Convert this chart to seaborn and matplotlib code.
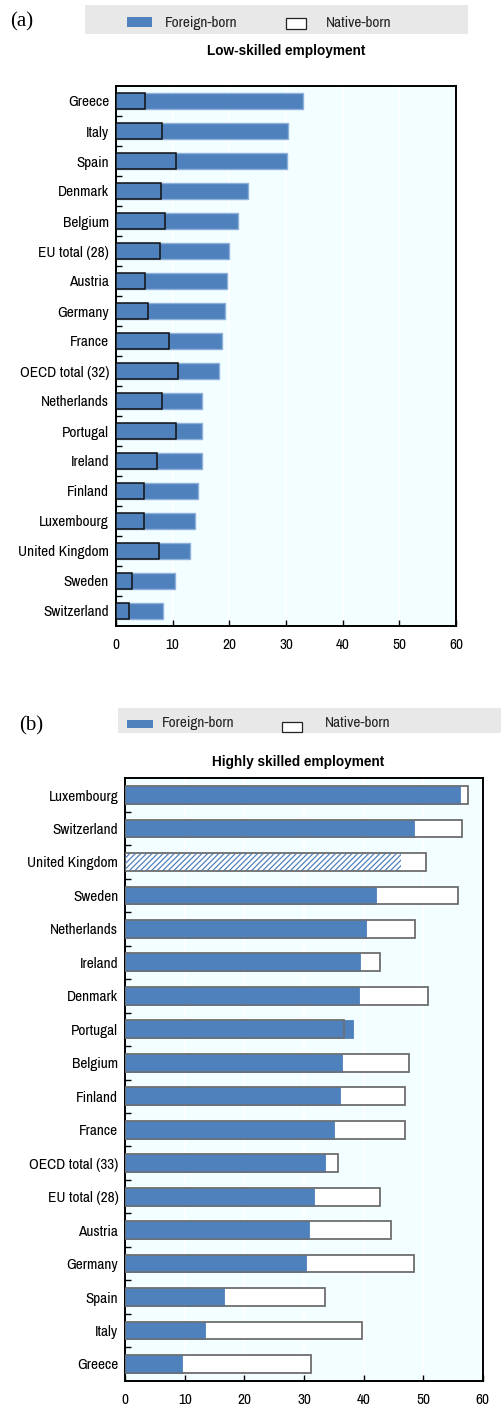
import matplotlib
matplotlib.use("Agg")
import matplotlib.pyplot as plt
from matplotlib.patches import Rectangle
import pandas as pd
import seaborn as sns

# Share of employment in low-skilled jobs, by place of birth (%)
low_countries = ["Greece", "Italy", "Spain", "Denmark", "Belgium", "EU total (28)",
                 "Austria", "Germany", "France", "OECD total (32)", "Netherlands",
                 "Portugal", "Ireland", "Finland", "Luxembourg", "United Kingdom",
                 "Sweden", "Switzerland"]
low_foreign = [33.0, 30.4, 30.2, 23.3, 21.6, 20.0, 19.5, 19.3, 18.7, 18.2,
               15.2, 15.1, 15.1, 14.5, 14.0, 13.1, 10.4, 8.3]
low_native = [5.2, 8.2, 10.6, 7.9, 8.7, 7.7, 5.2, 5.6, 9.3, 10.9,
              8.2, 10.5, 7.3, 5.0, 5.0, 7.5, 2.9, 2.3]

# Share of employment in highly skilled jobs, by place of birth (%)
high_countries = ["Luxembourg", "Switzerland", "United Kingdom", "Sweden", "Netherlands",
                  "Ireland", "Denmark", "Portugal", "Belgium", "Finland", "France",
                  "OECD total (33)", "EU total (28)", "Austria", "Germany", "Spain",
                  "Italy", "Greece"]
high_foreign = [56.2, 48.4, 46.3, 42.1, 40.4, 39.4, 39.3, 38.2, 36.3, 36.0, 35.1,
                33.5, 31.7, 30.9, 30.3, 16.6, 13.4, 9.5]
high_native = [57.5, 56.6, 50.5, 55.9, 48.7, 42.8, 50.9, 36.7, 47.7, 46.9, 46.9,
               35.7, 42.7, 44.6, 48.4, 33.6, 39.8, 31.1]
hatched_country = "United Kingdom"

x_ticks = [0, 10, 20, 30, 40, 50, 60]
legend_labels = ["Foreign-born", "Native-born"]
titles = ["Low-skilled employment", "Highly skilled employment"]
panel_tags = ["(a)", "(b)"]

BLUE = "#4f81bd"
BLUE_EDGE = "#8fb0da"
BG = "#f2feff"
GRAY_EDGE = "#8c8c8c"
SANS = ["Archivo Narrow", "Liberation Sans", "DejaVu Sans"]
BOLD_SANS = ["Liberation Sans", "DejaVu Sans"]
SERIF = ["Liberation Serif", "DejaVu Serif"]
FS = 11

sns.set_theme(style="white")
plt.rcParams["font.family"] = SANS
plt.rcParams["hatch.linewidth"] = 0.9

W, H = 501, 1405
fig = plt.figure(figsize=(W / 100, H / 100), dpi=100)


def fx(px):
    return px / W


def fy(py):
    return 1 - py / H


def make_axes(left, right, top, bottom):
    return fig.add_axes([fx(left), fy(bottom), fx(right) - fx(left), fy(top) - fy(bottom)])


def style_axes(ax, n):
    ax.set_facecolor(BG)
    ax.set_xlim(0, 60)
    ax.set_ylim(n - 0.5, -0.5)
    ax.set_xticks(x_ticks)
    ax.set_xticklabels([str(t) for t in x_ticks])
    ax.set_axisbelow(True)
    ax.grid(axis="x", color="white", linewidth=1.2)
    ax.grid(axis="y", visible=False)
    ax.set_xlabel("")
    ax.set_ylabel("")
    for s in ax.spines.values():
        s.set_visible(True)
        s.set_color("black")
        s.set_linewidth(1.4)
    ax.tick_params(axis="x", direction="in", length=4, width=1, color="black",
                   labelsize=FS, pad=9, bottom=True)
    ax.tick_params(axis="y", which="major", length=0, labelsize=FS, pad=5, left=False)
    ax.set_yticks([i + 0.5 for i in range(n - 1)], minor=True)
    ax.tick_params(axis="y", which="minor", direction="in", length=4, width=1,
                   color="black", left=True)
    for lab in ax.get_xticklabels() + ax.get_yticklabels():
        lab.set_color("black")


def legend_box(x0, x1, y0, y1, foreign_patch, foreign_text_x, native_patch, native_text_x, text_y):
    fig.patches.append(Rectangle((fx(x0), fy(y1)), fx(x1) - fx(x0), fy(y0) - fy(y1),
                                 transform=fig.transFigure, facecolor="#e8e8e8",
                                 edgecolor="none", zorder=0))
    a, b, c, d = foreign_patch
    fig.patches.append(Rectangle((fx(a), fy(d)), fx(b) - fx(a), fy(c) - fy(d),
                                 transform=fig.transFigure, facecolor=BLUE,
                                 edgecolor="none", zorder=1))
    a, b, c, d = native_patch
    fig.patches.append(Rectangle((fx(a), fy(d)), fx(b) - fx(a), fy(c) - fy(d),
                                 transform=fig.transFigure, facecolor="white",
                                 edgecolor="#222222", linewidth=0.9, zorder=1))
    fig.text(fx(foreign_text_x), fy(text_y), legend_labels[0], ha="left", va="center",
             fontsize=FS, color="#222222")
    fig.text(fx(native_text_x), fy(text_y), legend_labels[1], ha="left", va="center",
             fontsize=FS, color="#222222")


# ---------- Panel (a): low-skilled ----------
df_low = pd.DataFrame({"country": low_countries, "foreign": low_foreign, "native": low_native})
ax1 = make_axes(116, 456, 86, 626)
sns.barplot(data=df_low, x="foreign", y="country", order=low_countries, orient="h",
            color=BLUE, saturation=1, width=0.53, edgecolor=BLUE_EDGE, linewidth=1,
            ax=ax1, zorder=2)
sns.barplot(data=df_low, x="native", y="country", order=low_countries, orient="h",
            color=BLUE, saturation=1, width=0.53, edgecolor="#111111", linewidth=1.1,
            ax=ax1, zorder=3)
style_axes(ax1, len(low_countries))

legend_box(85, 468, 5, 34, (127, 152, 17, 27), 165, (286, 306, 18, 28.5), 326, 23)
fig.text(fx(286), fy(51), titles[0], ha="center", va="center", fontsize=9.8,
         fontweight="bold", family=BOLD_SANS, color="black")
fig.text(fx(10), fy(22), panel_tags[0], ha="left", va="center", fontsize=15,
         family=SERIF, color="black")

# ---------- Panel (b): highly skilled ----------
df_high = pd.DataFrame({"country": high_countries, "foreign": high_foreign, "native": high_native})
ax2 = make_axes(125.3, 482.7, 778.3, 1380.7)
sns.barplot(data=df_high, x="native", y="country", order=high_countries, orient="h",
            color="white", saturation=1, width=0.53, edgecolor=GRAY_EDGE, linewidth=1.1,
            ax=ax2, zorder=2)
sns.barplot(data=df_high, x="foreign", y="country", order=high_countries, orient="h",
            color=BLUE, saturation=1, width=0.53, edgecolor=BLUE, linewidth=0.6,
            ax=ax2, zorder=3)
# Provisional estimate shown with a hatched bar
foreign_bars = ax2.containers[-1]
uk_bar = foreign_bars[high_countries.index(hatched_country)]
uk_bar.set_facecolor("none")
uk_bar.set_edgecolor(BLUE)
uk_bar.set_linewidth(0)
uk_bar.set_hatch("//////")
# Native-born outline kept visible above the foreign-born bars
sns.barplot(data=df_high, x="native", y="country", order=high_countries, orient="h",
            color="white", saturation=1, width=0.53, edgecolor=GRAY_EDGE, linewidth=1.1,
            ax=ax2, zorder=4)
for bar in ax2.containers[-1]:
    bar.set_facecolor("none")
    bar.set_edgecolor("#6e6e6e")
style_axes(ax2, len(high_countries))

legend_box(118, 501, 708, 733, (127, 153, 720, 728), 162, (282, 302, 722, 732), 325, 723)
fig.text(fx(298), fy(762), titles[1], ha="center", va="center", fontsize=9.8,
         fontweight="bold", family=BOLD_SANS, color="black")
fig.text(fx(19), fy(726), panel_tags[1], ha="left", va="center", fontsize=15,
         family=SERIF, color="black")

fig.savefig("out.png", dpi=100)
